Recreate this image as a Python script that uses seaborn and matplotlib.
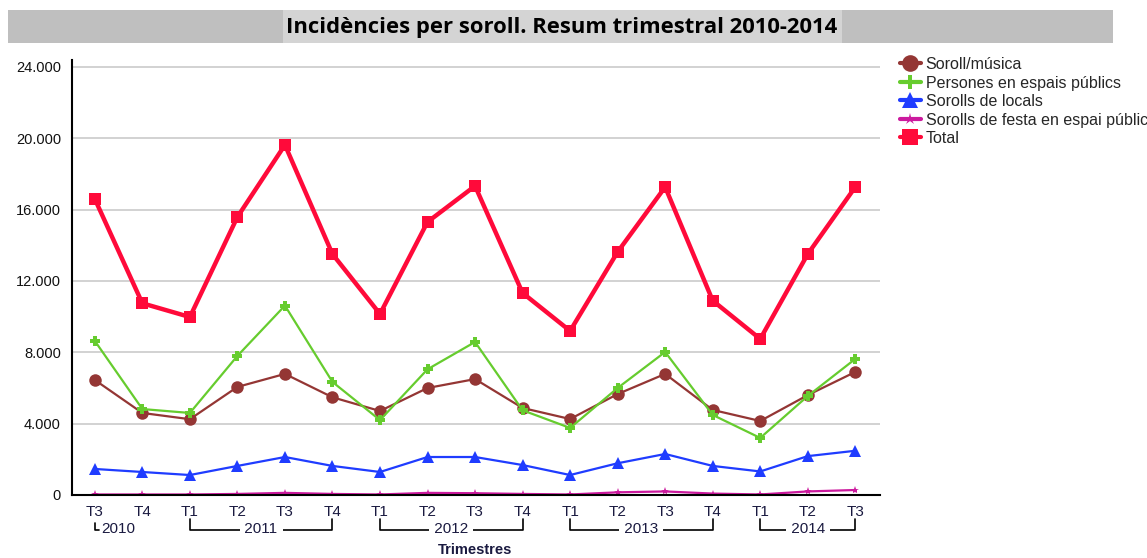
import matplotlib
matplotlib.use("Agg")
import matplotlib.pyplot as plt
import matplotlib.patches as mpatches
from matplotlib.lines import Line2D
from matplotlib.transforms import blended_transform_factory
import seaborn as sns
import pandas as pd
import numpy as np

quarters = ["T3", "T4", "T1", "T2", "T3", "T4", "T1", "T2", "T3", "T4",
            "T1", "T2", "T3", "T4", "T1", "T2", "T3"]
years = ["2010", "2010", "2011", "2011", "2011", "2011", "2012", "2012", "2012", "2012",
         "2013", "2013", "2013", "2013", "2014", "2014", "2014"]

soroll_musica = [6450, 4600, 4250, 6060, 6790, 5480, 4710, 6000, 6500, 4880,
                 4260, 5660, 6790, 4770, 4150, 5600, 6900]
persones = [8640, 4820, 4600, 7800, 10620, 6340, 4200, 7050, 8580, 4750,
            3760, 6000, 8020, 4490, 3200, 5550, 7630]
locals_ = [1460, 1290, 1120, 1630, 2130, 1630, 1290, 2130, 2130, 1680,
           1120, 1780, 2300, 1630, 1320, 2180, 2480]
festa = [30, 30, 30, 60, 120, 60, 30, 120, 100, 60,
         30, 150, 200, 80, 30, 200, 280]
total = [16600, 10750, 9980, 15590, 19630, 13510, 10150, 15310, 17330, 11330,
         9200, 13630, 17270, 10900, 8750, 13510, 17270]

series_names = ["Soroll/música", "Persones en espais públics", "Sorolls de locals",
                "Sorolls de festa en espai públic", "Total"]
series_values = [soroll_musica, persones, locals_, festa, total]
colors = ["#943634", "#66cc2e", "#1f3cff", "#cc1a9e", "#ff0a3a"]
markers = ["o", "P", "^", "*", "s"]
msizes = [9, 7, 8, 6, 8]
lwidths = [1.6, 1.6, 1.6, 1.6, 3.2]

sns.set_style("white")
plt.rcParams["font.family"] = ["Liberation Sans", "DejaVu Sans"]

W, H = 1147, 558
fig = plt.figure(figsize=(W / 100, H / 100), dpi=100)
ax = fig.add_axes([72 / W, 1 - 495 / H, (880 - 72) / W, (495 - 60) / H])

x = np.arange(len(quarters))
handles = []
for name, vals, c, m, ms, lw in zip(series_names, series_values, colors, markers, msizes, lwidths):
    df = pd.DataFrame({"x": x, "y": vals})
    sns.lineplot(data=df, x="x", y="y", ax=ax, color=c, marker=m, markersize=ms,
                 linewidth=lw, markeredgewidth=0, markeredgecolor=c, legend=False)
    handles.append(Line2D([0], [0], color=c, marker=m, markersize=ms + 3, linewidth=3,
                          markeredgewidth=0, label=name))

y_max_tick = 24000
ax.set_ylim(0, y_max_tick * (495 - 60) / (495 - 67))
ax.set_xlim(-0.48, len(quarters) - 1 + 0.52)
yt = np.arange(0, 24001, 4000)
ax.set_yticks(yt)
ax.set_yticklabels([f"{v:,}".replace(",", ".") for v in yt], fontsize=10.5, color="#111111")
ax.yaxis.grid(True, color="#cfcfcf", linewidth=1.3)
ax.set_axisbelow(True)
ax.set_xticks(x)
ax.set_xticklabels(quarters, fontsize=11, color="#1a1a40")
ax.tick_params(axis="x", length=0, pad=7)
ax.tick_params(axis="y", length=0, pad=8)
for s in ["top", "right"]:
    ax.spines[s].set_visible(False)
for s in ["left", "bottom"]:
    ax.spines[s].set_color("#000000")
    ax.spines[s].set_linewidth(1.5)
ax.set_xlabel("")
ax.set_ylabel("")

# Year group brackets
tr = blended_transform_factory(ax.transData, fig.transFigure)
def fy(py):
    return 1 - py / H
unique_years = []
for yv in years:
    if yv not in unique_years:
        unique_years.append(yv)
for yv in unique_years:
    idx = [i for i, v in enumerate(years) if v == yv]
    a, b = idx[0], idx[-1]
    mid = (a + b) / 2
    top_y, bot_y = fy(519), fy(530)
    if yv == "2010":
        ax.plot([a, a, a + 0.08], [fy(523), bot_y, bot_y], transform=tr, color="#000000",
                linewidth=1.2, clip_on=False)
        ax.text(a + 0.14, fy(529), yv, transform=tr, ha="left", va="center",
                fontsize=11, color="#1a1a40")
    else:
        ax.text(mid, fy(529), " " + yv + " ", transform=tr, ha="center", va="center",
                fontsize=11, color="#1a1a40",
                bbox=dict(facecolor="white", edgecolor="none", pad=0.5))
        ax.plot([a, a, b, b], [top_y, bot_y, bot_y, top_y], transform=tr, color="#000000",
                linewidth=1.2, clip_on=False, zorder=0)

fig.text(475 / W, fy(550), "Trimestres", ha="center", va="center", fontsize=10.5,
         fontweight="bold", color="#1a1a40")

# Title band
fig.patches.append(mpatches.Rectangle((8 / W, fy(43)), (1113 - 8) / W, 33 / H,
                                      transform=fig.transFigure, facecolor="#bfbfbf",
                                      edgecolor="none", zorder=0))
fig.patches.append(mpatches.Rectangle((283 / W, fy(43)), (842 - 283) / W, 33 / H,
                                      transform=fig.transFigure, facecolor="#d4d4d4",
                                      edgecolor="none", zorder=0))
fig.text(562 / W, fy(28), "Incidències per soroll. Resum trimestral 2010-2014",
         ha="center", va="center", fontsize=15.8, fontweight="bold",
         family=["Open Sans", "DejaVu Sans"], color="#000000")

fig.legend(handles=handles, loc="upper left", bbox_to_anchor=(900 / W, fy(57)),
           frameon=False, fontsize=11.5, handlelength=1.3, handletextpad=0.3,
           labelspacing=0.22, borderaxespad=0, borderpad=0)

fig.savefig("out.png", dpi=100)
